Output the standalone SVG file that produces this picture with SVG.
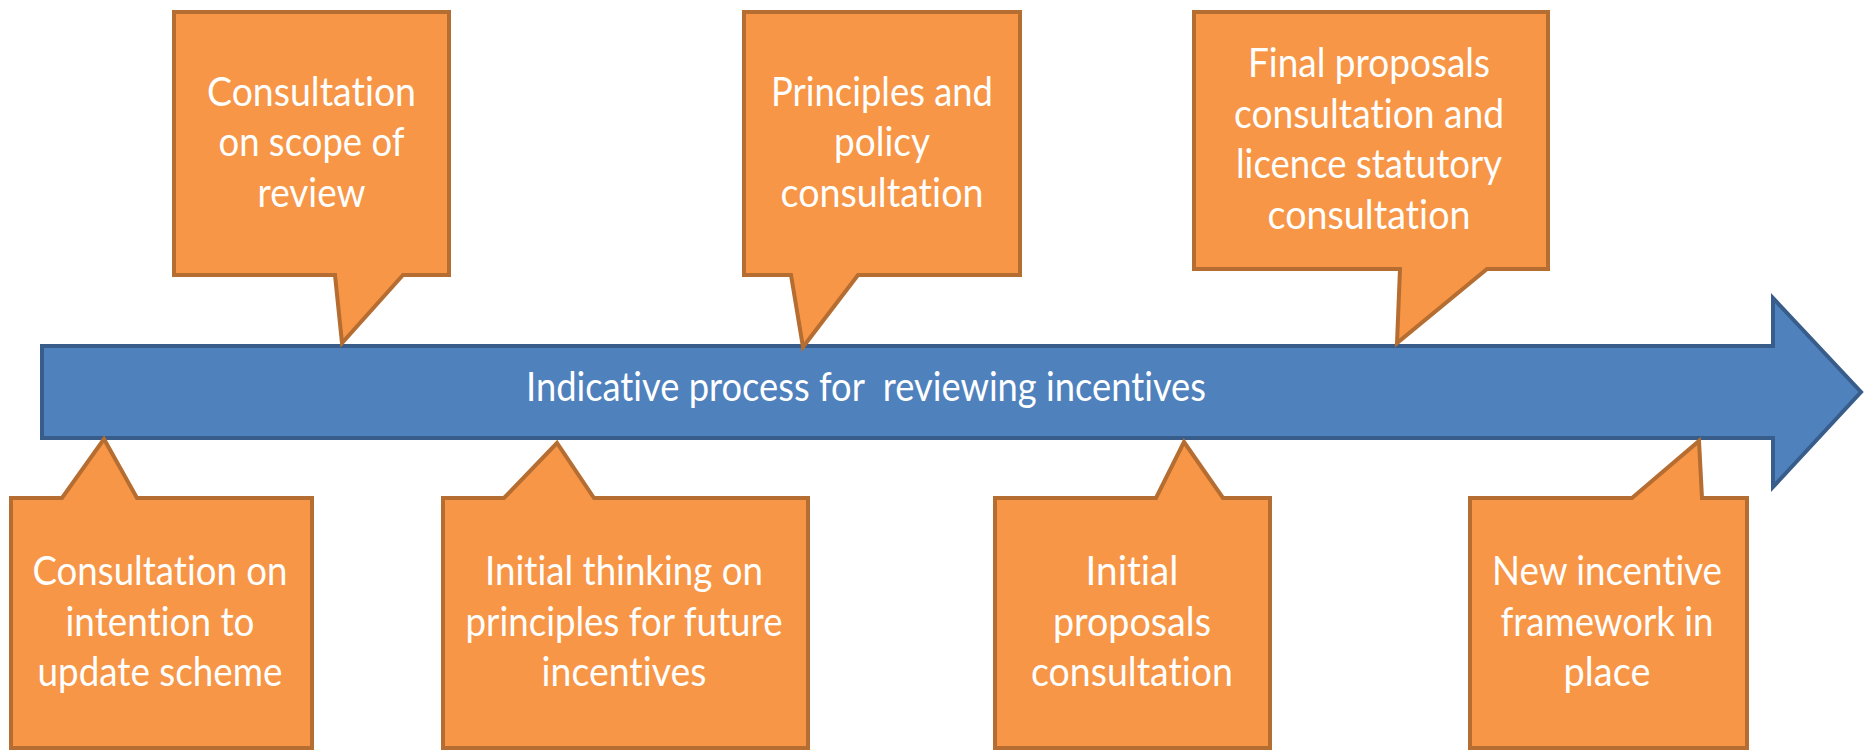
<svg xmlns="http://www.w3.org/2000/svg" width="1869" height="751" viewBox="0 0 1869 751">
<style>
.callout{fill:#F79646;stroke:#B66D31;stroke-width:4;stroke-linejoin:miter}
.arrow{fill:#4F81BD;stroke:#385D8A;stroke-width:4;stroke-linejoin:miter}
.t{font-family:Lato,"Open Sans","Liberation Sans",sans-serif;font-size:40px;fill:#FFFFFF;text-anchor:middle;font-variant-ligatures:none;font-feature-settings:"liga" 0,"dlig" 0}
.title{font-family:Lato,"Open Sans","Liberation Sans",sans-serif;font-size:41px;fill:#FFFFFF;white-space:pre;font-variant-ligatures:none;font-feature-settings:"liga" 0,"dlig" 0}
</style>
<rect width="1869" height="751" fill="#FFFFFF"/>
<g id="timeline-arrow">
<path class="arrow" d="M42,346 H1773 V298 L1861,392 L1773,487 V438 H42 Z"/>
<text class="title" x="526" y="401" textLength="680" lengthAdjust="spacingAndGlyphs" xml:space="preserve">Indicative process for  reviewing incentives</text>
</g>
<g id="callout-scope">
<path class="callout" d="M174,12 H449 V275 H403 L342,343 L335,275 H174 Z"/>
<text class="t" x="311.5" y="106" textLength="209" lengthAdjust="spacingAndGlyphs">Consultation</text>
<text class="t" x="311.5" y="156" textLength="186" lengthAdjust="spacingAndGlyphs">on scope of</text>
<text class="t" x="311.5" y="207" textLength="108" lengthAdjust="spacingAndGlyphs">review</text>
</g>
<g id="callout-principles-policy">
<path class="callout" d="M744,12 H1020 V275 H858 L803,347 L791,275 H744 Z"/>
<text class="t" x="882" y="106" textLength="222" lengthAdjust="spacingAndGlyphs">Principles and</text>
<text class="t" x="882" y="156" textLength="96" lengthAdjust="spacingAndGlyphs">policy</text>
<text class="t" x="882" y="207" textLength="203" lengthAdjust="spacingAndGlyphs">consultation</text>
</g>
<g id="callout-final-proposals">
<path class="callout" d="M1194,12 H1548 V269 H1487 L1397,343 L1400,269 H1194 Z"/>
<text class="t" x="1369" y="77" textLength="242" lengthAdjust="spacingAndGlyphs">Final proposals</text>
<text class="t" x="1369" y="128" textLength="270" lengthAdjust="spacingAndGlyphs">consultation and</text>
<text class="t" x="1369" y="178" textLength="266" lengthAdjust="spacingAndGlyphs">licence statutory</text>
<text class="t" x="1369" y="229" textLength="203" lengthAdjust="spacingAndGlyphs">consultation</text>
</g>
<g id="callout-intention">
<path class="callout" d="M11,498 H62 L104,439 L137,498 H312 V748 H11 Z"/>
<text class="t" x="160" y="585" textLength="255" lengthAdjust="spacingAndGlyphs">Consultation on</text>
<text class="t" x="160" y="636" textLength="189" lengthAdjust="spacingAndGlyphs">intention to</text>
<text class="t" x="160" y="686" textLength="245" lengthAdjust="spacingAndGlyphs">update scheme</text>
</g>
<g id="callout-initial-thinking">
<path class="callout" d="M443,498 H504 L557,443 L594,498 H808 V748 H443 Z"/>
<text class="t" x="624" y="585" textLength="278" lengthAdjust="spacingAndGlyphs">Initial thinking on</text>
<text class="t" x="624" y="636" textLength="317" lengthAdjust="spacingAndGlyphs">principles for future</text>
<text class="t" x="624" y="686" textLength="165" lengthAdjust="spacingAndGlyphs">incentives</text>
</g>
<g id="callout-initial-proposals">
<path class="callout" d="M995,498 H1156 L1184,442 L1223,498 H1270 V748 H995 Z"/>
<text class="t" x="1132" y="585" textLength="93" lengthAdjust="spacingAndGlyphs">Initial</text>
<text class="t" x="1132" y="636" textLength="158" lengthAdjust="spacingAndGlyphs">proposals</text>
<text class="t" x="1132" y="686" textLength="202" lengthAdjust="spacingAndGlyphs">consultation</text>
</g>
<g id="callout-new-framework">
<path class="callout" d="M1470,498 H1632 L1699,441 L1702,498 H1747 V748 H1470 Z"/>
<text class="t" x="1607" y="585" textLength="230" lengthAdjust="spacingAndGlyphs">New incentive</text>
<text class="t" x="1607" y="636" textLength="213" lengthAdjust="spacingAndGlyphs">framework in</text>
<text class="t" x="1607" y="686" textLength="87" lengthAdjust="spacingAndGlyphs">place</text>
</g>
</svg>
